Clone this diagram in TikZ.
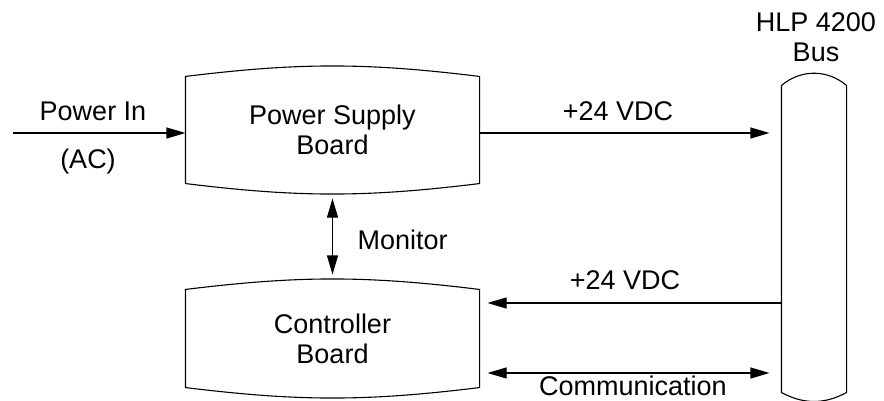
\documentclass[tikz,border=0pt]{standalone}
\usepackage{fontspec}
\setmainfont{Liberation Sans}
\usetikzlibrary{arrows.meta}
\tikzset{
  board/.style={minimum width=293pt, inner sep=0pt, align=center},
  lbl/.style={inner sep=0pt},
  sig/.style={-{Triangle[length=19pt,width=11pt]}},
  bisig/.style={{Triangle[length=19pt,width=11pt]}-{Triangle[length=19pt,width=11pt]}},
}
\begin{document}
\begin{tikzpicture}[x=1pt, y=1pt, line width=1.1pt, font=\fontsize{27}{30}\selectfont]
            \useasboundingbox (0,0) rectangle (884,400);
            % boards
            \node[board, minimum height=106pt] (psb) at (332.5,270) {Power Supply\\Board};
            \draw (psb.north west) to[bend left=7] (psb.north east) -- (psb.south east)
                  to[bend left=7] (psb.south west) -- cycle;
            \node[board, minimum height=97pt] (cb) at (332.5,61.5) {Controller\\Board};
            \draw (cb.north west) to[bend left=7] (cb.north east) -- (cb.south east)
                  to[bend left=7] (cb.south west) -- cycle;
            % bus
            \node[lbl, minimum width=64pt, minimum height=306pt] (bus) at (814,161) {};
            \draw (bus.north west) to[bend left=40] (bus.north east) -- (bus.south east)
                  to[bend left=28] (bus.south west) -- cycle;
            \node[lbl, align=center] (buslbl) at (816,363) {HLP 4200\\Bus};
            % signals
            \coordinate (pin) at (13,267);
            \coordinate (ret) at (600,97);
            \coordinate (com) at (600,27);
            \draw[sig] (pin) -- (psb.west |- pin);
            \node[lbl] (pinlbl) at (93,289) {Power In};
            \node[lbl] (ac) at (88,238) {(AC)};
            \draw[sig, shorten >=12pt] (psb.east |- pin) -- (bus.west |- pin);
            \node[lbl] (vdca) at (618,289) {+24 VDC};
            \draw[sig, shorten >=8pt] (bus.west |- ret) -- (cb.east |- ret);
            \node[lbl] (vdcb) at (625,120) {+24 VDC};
            \draw[bisig, shorten <=8pt, shorten >=12pt] (cb.east |- com) -- (bus.west |- com);
            \node[lbl] (comlbl) at (633,14) {Communication};
            \draw[bisig, shorten <=15pt, shorten >=15pt] (psb.south) -- (cb.north);
            \node[lbl, anchor=west] (monlbl) at (357,160) {Monitor};
\end{tikzpicture}
\end{document}
